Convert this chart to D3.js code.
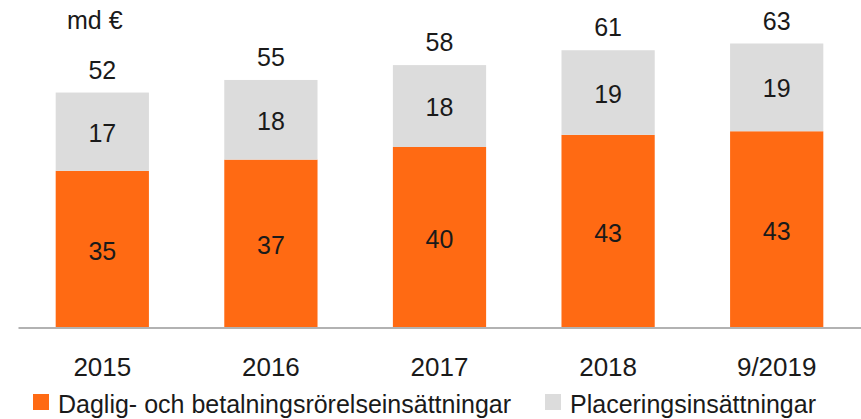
<!DOCTYPE html>
<html><head><meta charset="utf-8">
<script src="https://cdn.jsdelivr.net/npm/d3@7"></script>
<style>body{margin:0;background:#fff}svg{display:block}text{font-family:"Liberation Sans",Arial,sans-serif;fill:#1a1a1a}</style>
</head><body><svg id="c" width="861" height="419"></svg>
<script>
const categories = ["2015","2016","2017","2018","9/2019"];
const dailyValues = [34.7, 37.2, 40.0, 42.7, 43.5];
const placementValues = [17.4, 17.7, 18.2, 18.8, 19.5];
const dailyLabels = ["35","37","40","43","43"];
const placementLabels = ["17","18","18","19","19"];
const totalLabels = ["52","55","58","61","63"];
const seriesNames = ["Daglig- och betalningsrörelseinsättningar","Placeringsinsättningar"];
const unitLabel = "md €";

const colors = ["#FF6A13", "#DCDCDC"];
const svg = d3.select("#c");
const x = d3.scaleBand().domain(categories).range([18, 861]).paddingInner(0.447).paddingOuter(0.2235);
const y = d3.scaleLinear().domain([0, 70]).range([327, 12]);

const rows = categories.map((c, i) => ({c, i, d: dailyValues[i], p: placementValues[i]}));

const g = svg.append("g");
rows.forEach(r => {
  g.append("rect").attr("x", x(r.c)).attr("width", x.bandwidth())
    .attr("y", y(r.d)).attr("height", y(0) - y(r.d)).attr("fill", colors[0]);
  g.append("rect").attr("x", x(r.c)).attr("width", x.bandwidth())
    .attr("y", y(r.d + r.p)).attr("height", y(r.d) - y(r.d + r.p)).attr("fill", colors[1]);
  const cx = x(r.c) + x.bandwidth() / 2;
  g.append("text").attr("x", cx).attr("y", (y(0) + y(r.d)) / 2 + 11).attr("text-anchor", "middle")
    .style("font-size", "25px").text(dailyLabels[r.i]);
  g.append("text").attr("x", cx).attr("y", (y(r.d) + y(r.d + r.p)) / 2 + 10).attr("text-anchor", "middle")
    .style("font-size", "25px").text(placementLabels[r.i]);
  g.append("text").attr("x", cx).attr("y", y(r.d + r.p) - 14).attr("text-anchor", "middle")
    .style("font-size", "25px").text(totalLabels[r.i]);
});

const ax = svg.append("g").attr("transform", "translate(0,327.5)")
  .call(d3.axisBottom(x).tickSize(0).tickPadding(30));
ax.select(".domain").attr("stroke", "#999").attr("stroke-width", 1.5);
ax.selectAll("text").style("font-size", "26px").attr("fill", "#1a1a1a")
  .style("font-family", '"Liberation Sans",Arial,sans-serif');

svg.append("text").attr("x", 67).attr("y", 29).style("font-size", "25px").text(unitLabel);

const legendX = [33, 545];
seriesNames.forEach((n, i) => {
  svg.append("rect").attr("x", legendX[i]).attr("y", 394).attr("width", 16).attr("height", 16).attr("fill", colors[i]);
  svg.append("text").attr("x", legendX[i] + 25).attr("y", 413).style("font-size", "25px").text(n);
});
</script></body></html>
